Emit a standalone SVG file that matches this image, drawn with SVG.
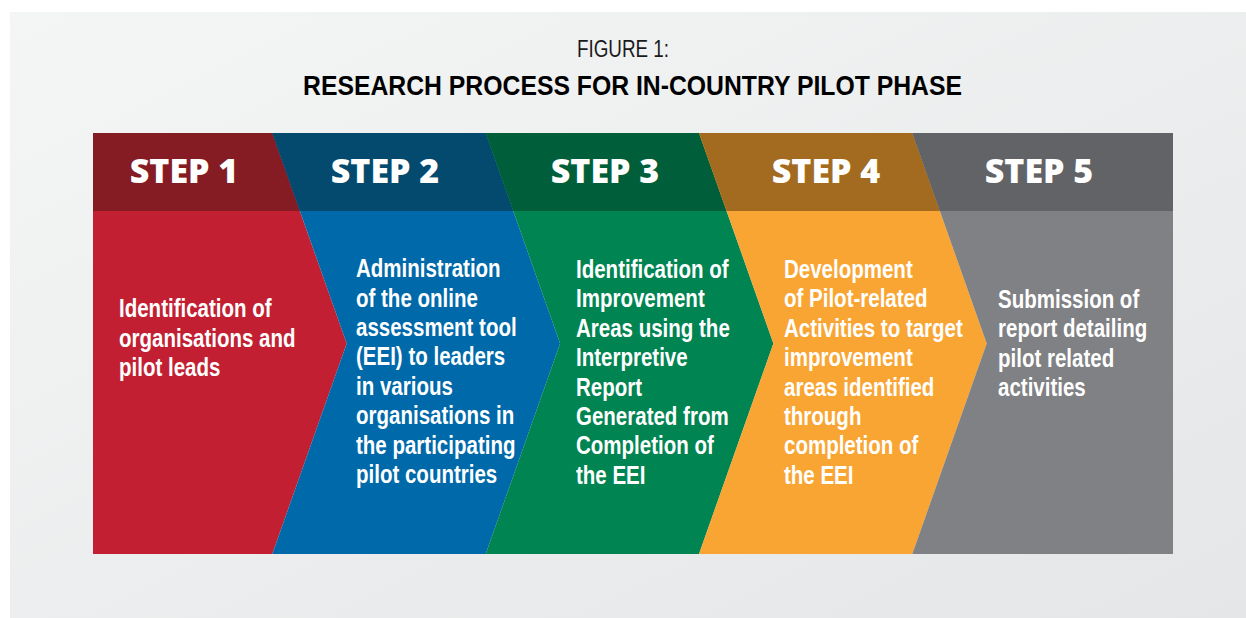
<svg xmlns="http://www.w3.org/2000/svg" width="1246" height="618" viewBox="0 0 1246 618">
  <defs>
    <linearGradient id="panelGrad" x1="0" y1="0" x2="1" y2="1">
      <stop offset="0" stop-color="#f4f5f5"/>
      <stop offset="1" stop-color="#e5e6e7"/>
    </linearGradient>
    <style>
      .title1 { font-family: 'Liberation Sans', Arial, sans-serif; font-size: 23px; fill: #1a1a1a; text-anchor: middle; }
      .title2 { font-family: 'Liberation Sans', Arial, sans-serif; font-weight: 700; font-size: 27px; fill: #000; text-anchor: middle; }
      .step { font-family: 'Open Sans', 'Liberation Sans', sans-serif; font-weight: 800; font-size: 34px; fill: #fff; text-anchor: middle; }
      .body { font-family: 'Liberation Sans', Arial, sans-serif; font-weight: 700; font-size: 25px; fill: #fff; }
    </style>
  </defs>

  <!-- page background and panel -->
  <rect x="0" y="0" width="1246" height="618" fill="#ffffff"/>
  <rect x="10" y="12" width="1236" height="606" fill="url(#panelGrad)"/>

  <!-- heading (narrowed to a condensed face) -->
  <g id="heading">
    <text class="title1" transform="translate(623,57) scale(0.82,1)" x="0" y="0">FIGURE 1:</text>
    <text class="title2" x="632.5" y="95" textLength="659" lengthAdjust="spacingAndGlyphs">RESEARCH PROCESS FOR IN-COUNTRY PILOT PHASE</text>
  </g>

  <!-- step 1 -->
  <g id="step1">
    <polygon fill="#c22032" points="93,133 272.3,133 346.7,343.5 272.3,554 93,554"/>
    <polygon fill="#851c24" points="93,133 272.3,133 299.9,211 93,211"/>
    <text class="step" x="184" y="183.3">STEP 1</text>
    <text class="body" transform="translate(119,317.3) scale(0.82,1)">
      <tspan x="0" y="0">Identification of</tspan>
      <tspan x="0" y="29.4">organisations and</tspan>
      <tspan x="0" y="58.8">pilot leads</tspan>
    </text>
  </g>

  <!-- step 2 -->
  <g id="step2">
    <polygon fill="#0069a9" points="272.3,133 485.7,133 560.1,343.5 485.7,554 272.3,554 346.7,343.5"/>
    <polygon fill="#034a6e" points="272.3,133 485.7,133 513.3,211 299.9,211"/>
    <text class="step" x="385" y="183.3">STEP 2</text>
    <text class="body" transform="translate(356,277.3) scale(0.82,1)">
      <tspan x="0" y="0">Administration</tspan>
      <tspan x="0" y="29.4">of the online</tspan>
      <tspan x="0" y="58.8">assessment tool</tspan>
      <tspan x="0" y="88.2">(EEI) to leaders</tspan>
      <tspan x="0" y="117.6">in various</tspan>
      <tspan x="0" y="147">organisations in</tspan>
      <tspan x="0" y="176.4">the participating</tspan>
      <tspan x="0" y="205.8">pilot countries</tspan>
    </text>
  </g>

  <!-- step 3 -->
  <g id="step3">
    <polygon fill="#008452" points="485.7,133 699,133 773.4,343.5 699,554 485.7,554 560.1,343.5"/>
    <polygon fill="#005f3a" points="485.7,133 699,133 726.6,211 513.3,211"/>
    <text class="step" x="605" y="183.3">STEP 3</text>
    <text class="body" transform="translate(576,278) scale(0.82,1)">
      <tspan x="0" y="0">Identification of</tspan>
      <tspan x="0" y="29.4">Improvement</tspan>
      <tspan x="0" y="58.8">Areas using the</tspan>
      <tspan x="0" y="88.2">Interpretive</tspan>
      <tspan x="0" y="117.6">Report</tspan>
      <tspan x="0" y="147">Generated from</tspan>
      <tspan x="0" y="176.4">Completion of</tspan>
      <tspan x="0" y="205.8">the EEI</tspan>
    </text>
  </g>

  <!-- step 4 -->
  <g id="step4">
    <polygon fill="#f9a533" points="699,133 912.3,133 986.7,343.5 912.3,554 699,554 773.4,343.5"/>
    <polygon fill="#a36b1f" points="699,133 912.3,133 939.9,211 726.6,211"/>
    <text class="step" x="826" y="183.3">STEP 4</text>
    <text class="body" transform="translate(784,278) scale(0.82,1)">
      <tspan x="0" y="0">Development</tspan>
      <tspan x="0" y="29.4">of Pilot-related</tspan>
      <tspan x="0" y="58.8">Activities to target</tspan>
      <tspan x="0" y="88.2">improvement</tspan>
      <tspan x="0" y="117.6">areas identified</tspan>
      <tspan x="0" y="147">through</tspan>
      <tspan x="0" y="176.4">completion of</tspan>
      <tspan x="0" y="205.8">the EEI</tspan>
    </text>
  </g>

  <!-- step 5 -->
  <g id="step5">
    <polygon fill="#808184" points="912.3,133 1173,133 1173,554 912.3,554 986.7,343.5"/>
    <polygon fill="#626366" points="912.3,133 1173,133 1173,211 939.9,211"/>
    <text class="step" x="1039" y="183.3">STEP 5</text>
    <text class="body" transform="translate(998,308) scale(0.82,1)">
      <tspan x="0" y="0">Submission of</tspan>
      <tspan x="0" y="29.4">report detailing</tspan>
      <tspan x="0" y="58.8">pilot related</tspan>
      <tspan x="0" y="88.2">activities</tspan>
    </text>
  </g>
</svg>
